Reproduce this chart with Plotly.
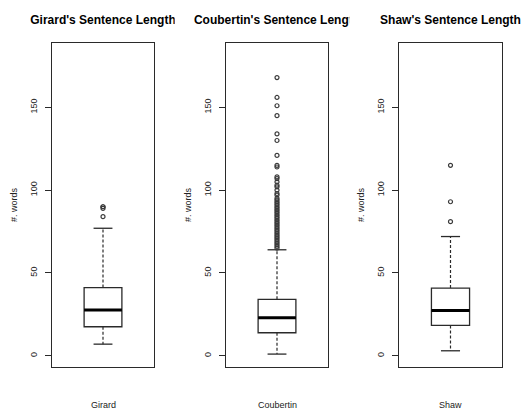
import plotly.graph_objects as go

# ---------------- data ----------------
authors = ["Girard", "Coubertin", "Shaw"]
titles = ["Girard's Sentence Length", "Coubertin's Sentence Length", "Shaw's Sentence Length"]
q1 = [17.5, 13.9, 18.3]
medians = [27.7, 23.0, 27.4]
q3 = [41.2, 34.1, 40.9]
whisker_low = [7, 1, 3]
whisker_high = [77, 64, 72]
outliers_girard = [84, 89, 90, 90]
outliers_coubertin = [65, 66, 67, 68, 69, 70, 71, 72, 73, 74, 75, 76, 77, 78, 79, 80,
                      81, 82, 83, 84, 85, 86, 87, 88, 89, 90, 91, 92, 93, 94, 95,
                      97, 98, 100, 102, 103, 105, 107, 108, 114, 115, 121, 130, 134,
                      145, 151, 156, 168]
outliers_shaw = [81, 93, 115]
outliers = [outliers_girard, outliers_coubertin, outliers_shaw]
y_ticks = [0, 50, 100, 150]
y_label = "#. words"

# ---------------- layout / style ----------------
W, H = 524, 410
panel_px = [(52, 154), (226, 328), (399, 502)]   # window pixels
plot_top_px, plot_bottom_px = 43, 367
title_center_px = 21
xlabel_center_px = 405
y_range = [-6.8, 188.9]
BOX_POS, BOX_W, STAPLE_W = 1.0, 0.4, 0.2
x_range = [0.46, 1.54]
FONT = "Liberation Sans, Arial, Helvetica, sans-serif"
LINE = "#2a2a2a"
PT = "#3a3a3a"


def fx(px):
    return min(1.0, max(0.0, px / W))


def fy(py):
    return min(1.0, max(0.0, 1 - py / H))


fig = go.Figure()

y_dom = [fy(plot_bottom_px), fy(plot_top_px)]

for i, name in enumerate(authors):
    sx = "" if i == 0 else str(i + 1)
    xa, ya = "x" + sx, "y" + sx
    # whiskers (dashed)
    for a, b in ((q3[i], whisker_high[i]), (q1[i], whisker_low[i])):
        fig.add_trace(go.Scatter(x=[BOX_POS, BOX_POS], y=[a, b], mode="lines",
                                 line=dict(color=LINE, width=1.2, dash="3px,2px"),
                                 hoverinfo="skip", xaxis=xa, yaxis=ya))
    # staples
    for v in (whisker_high[i], whisker_low[i]):
        fig.add_trace(go.Scatter(x=[BOX_POS - STAPLE_W / 2, BOX_POS + STAPLE_W / 2], y=[v, v],
                                 mode="lines", line=dict(color=LINE, width=1.3),
                                 hoverinfo="skip", xaxis=xa, yaxis=ya))
    # box
    fig.add_trace(go.Box(x=[BOX_POS], q1=[q1[i]], median=[medians[i]], q3=[q3[i]],
                         lowerfence=[q1[i]], upperfence=[q3[i]], width=BOX_W,
                         fillcolor="white", line=dict(color=LINE, width=1.3),
                         boxpoints=False, name=name, xaxis=xa, yaxis=ya))
    # thick median
    fig.add_trace(go.Scatter(x=[BOX_POS - BOX_W / 2, BOX_POS + BOX_W / 2],
                             y=[medians[i], medians[i]], mode="lines",
                             line=dict(color="black", width=3),
                             hoverinfo="skip", xaxis=xa, yaxis=ya))
    # outliers
    fig.add_trace(go.Scatter(x=[BOX_POS] * len(outliers[i]), y=outliers[i], mode="markers",
                             marker=dict(symbol="circle-open", size=4, color=PT,
                                         line=dict(width=1.2, color=PT)),
                             xaxis=xa, yaxis=ya))

    dom = [fx(panel_px[i][0]), fx(panel_px[i][1])]
    fig.layout["xaxis" + sx] = dict(domain=dom, range=x_range, showticklabels=False,
                                    ticks="", showgrid=False, zeroline=False,
                                    showline=True, mirror=True, linecolor=LINE,
                                    linewidth=1.3, fixedrange=True, anchor=ya)
    fig.layout["yaxis" + sx] = dict(domain=y_dom, range=y_range, tickvals=y_ticks,
                                    ticks="outside", ticklen=6, tickwidth=1,
                                    tickcolor=LINE, tickangle=-90,
                                    tickfont=dict(size=9, color="#222", family=FONT),
                                    ticklabelstandoff=4,
                                    title=dict(text=y_label, standoff=10,
                                               font=dict(size=9, color="#222", family=FONT)),
                                    showgrid=False, zeroline=False, showline=True,
                                    mirror=True, linecolor=LINE, linewidth=1.3,
                                    fixedrange=True, anchor=xa)

    # title, clipped to its figure region (as R does) except at the page edge
    tx = str(i + 4)
    reg = [fx(W * i / 3), fx(W * (i + 1) / 3)]
    cx = ((dom[0] + dom[1]) / 2 - reg[0]) / (reg[1] - reg[0])
    fig.add_trace(go.Scatter(x=[cx], y=[0.5], mode="text", text=[titles[i]],
                             textposition="middle center", cliponaxis=(i < len(authors) - 1),
                             textfont=dict(size=12, color="black", family=FONT, weight="bold"),
                             hoverinfo="skip", xaxis="x" + tx, yaxis="y" + tx))
    fig.layout["xaxis" + tx] = dict(domain=reg, range=[0, 1], visible=False, fixedrange=True)
    fig.layout["yaxis" + tx] = dict(domain=[fy(2 * title_center_px), 1.0], range=[0, 1],
                                    visible=False, fixedrange=True)

    # x label under each panel
    fig.add_annotation(text=name, xref="paper", yref="paper",
                       x=(dom[0] + dom[1]) / 2, y=fy(xlabel_center_px),
                       xanchor="center", yanchor="middle", showarrow=False,
                       font=dict(size=9, color="#222", family=FONT))

fig.update_layout(width=W, height=H, margin=dict(l=0, r=0, t=0, b=0),
                  paper_bgcolor="white", plot_bgcolor="white", showlegend=False,
                  font=dict(family=FONT))

fig.write_html("out.html", config={"displayModeBar": False},
               post_script="document.body.style.margin='0';"
                           "document.body.style.overflow='hidden';")
